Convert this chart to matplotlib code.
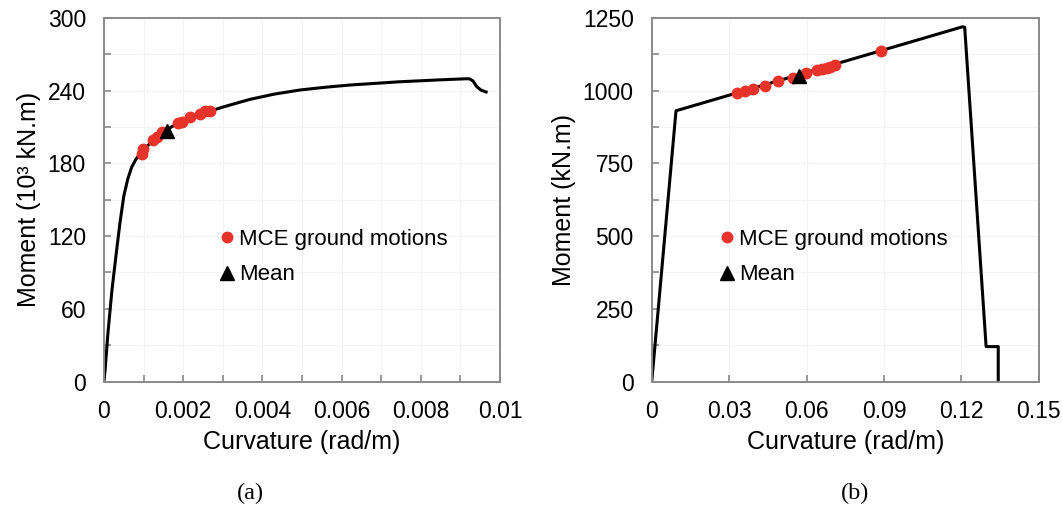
import numpy as np
import matplotlib
matplotlib.use("Agg")
import matplotlib.pyplot as plt

plt.rcParams['font.family'] = ['Liberation Sans', 'DejaVu Sans']

# (a) moment-curvature curve, moment in 10^3 kN.m
curv_a = [0, 0.00003, 0.0001, 0.0002, 0.0003, 0.0004, 0.0005, 0.0006, 0.0007,
          0.0008, 0.0009, 0.0010, 0.0012, 0.0014, 0.0016, 0.0018, 0.0020, 0.0023,
          0.00276, 0.0030, 0.00369, 0.0043, 0.00495, 0.0056, 0.00621, 0.00747,
          0.0085, 0.00916, 0.00924, 0.00932, 0.00941, 0.00952, 0.00965]
mom_a = [0, 10, 40, 75, 103, 130, 153, 167, 177, 183, 187.5, 191, 198, 204, 208,
         212, 215.5, 219.5, 224, 226.5, 232.9, 237.2, 240.6, 242.9, 244.7, 247.4,
         249, 249.9, 249.7, 248, 243.5, 240.5, 239]
mce_curv_a = [0.00095, 0.00099, 0.00124, 0.00133, 0.00146, 0.00188, 0.00196,
              0.00217, 0.00242, 0.00255, 0.00268]
mce_mom_a = [188, 192, 199, 202, 206, 213, 214, 218, 221, 223, 223.5]
mean_curv_a = [0.0016]
mean_mom_a = [207]

# (b) moment-curvature curve, moment in kN.m
curv_b = [0, 0.0094, 0.1205, 0.1213, 0.1296, 0.1343, 0.1343]
mom_b = [0, 931, 1220, 1218, 120, 120, 0]
mce_curv_b = [0.0329, 0.0362, 0.0394, 0.0439, 0.0491, 0.0549, 0.0597, 0.0640,
              0.0659, 0.0678, 0.0691, 0.0710, 0.0889]
mce_mom_b = [991, 999, 1006, 1016, 1033, 1045, 1060, 1071, 1075, 1079, 1083, 1088, 1137]
mean_curv_b = [0.0572]
mean_mom_b = [1051]

xt_a = [0, 0.002, 0.004, 0.006, 0.008, 0.01]
xt_a_lab = ['0', '0.002', '0.004', '0.006', '0.008', '0.01']
yt_a = [0, 60, 120, 180, 240, 300]
xt_b = [0, 0.03, 0.06, 0.09, 0.12, 0.15]
xt_b_lab = ['0', '0.03', '0.06', '0.09', '0.12', '0.15']
yt_b = [0, 250, 500, 750, 1000, 1250]

red = '#e8332b'
spine_col = '#8a8a8a'

fig = plt.figure(figsize=(10.62, 5.18), dpi=100)
ax1 = fig.add_axes([0.0979, 0.2635, 0.3729, 0.7017])
ax2 = fig.add_axes([0.6137, 0.2635, 0.3644, 0.7017])


def style(ax, xt, xlab, yt, xminor, yminor, xlim, ylim):
    ax.set_xlim(*xlim)
    ax.set_ylim(*ylim)
    ax.set_xticks(xt)
    ax.set_xticklabels(xlab)
    ax.set_yticks(yt)
    ax.set_yticklabels([str(v) for v in yt])
    if xminor is not None:
        ax.set_xticks(xminor, minor=True)
    ax.set_yticks(yminor, minor=True)
    ax.tick_params(which='both', direction='in', color=spine_col, width=1.2,
                   length=5, labelsize=16.5, pad=13)
    for s in ax.spines.values():
        s.set_color(spine_col)
        s.set_linewidth(1.4)
    ax.grid(True, which='both', color='#f3f3f3', linewidth=0.8)
    ax.set_axisbelow(True)
    ax.set_xlabel('Curvature (rad/m)', fontsize=18, labelpad=5)


ax1.plot(curv_a, mom_a, color='black', lw=2.2, zorder=2)
ax1.plot(mce_curv_a, mce_mom_a, 'o', color=red, ms=7.5, zorder=3, label='MCE ground motions')
ax1.plot(mean_curv_a, mean_mom_a, '^', color='black', ms=10, zorder=4, label='Mean')
style(ax1, xt_a, xt_a_lab, yt_a, np.arange(0.001, 0.01, 0.002), np.arange(30, 300, 60),
      (0, 0.01), (0, 300))
ax1.set_ylabel('Moment (10³ kN.m)', fontsize=18, labelpad=5)

ax2.plot(curv_b, mom_b, color='black', lw=2.2, zorder=2)
ax2.plot(mce_curv_b, mce_mom_b, 'o', color=red, ms=7.5, zorder=3, label='MCE ground motions')
ax2.plot(mean_curv_b, mean_mom_b, '^', color='black', ms=10, zorder=4, label='Mean')
style(ax2, xt_b, xt_b_lab, yt_b, None, np.arange(125, 1250, 250),
      (0, 0.15), (0, 1250))
ax2.set_ylabel('Moment (kN.m)', fontsize=18, labelpad=5)

for ax, xa in ((ax1, 0.288), (ax2, 0.172)):
    ax.legend(loc='center left', bbox_to_anchor=(xa, 0.342), frameon=False,
              fontsize=16, handlelength=0.8, handletextpad=0.15,
              labelspacing=0.65, borderpad=0, borderaxespad=0)

fig.text(0.2354, 0.0483, '(a)', family='Liberation Serif', fontsize=17.5,
         ha='center', va='center')
fig.text(0.805, 0.0483, '(b)', family='Liberation Serif', fontsize=17.5,
         ha='center', va='center')

fig.savefig('out.png', dpi=100)
